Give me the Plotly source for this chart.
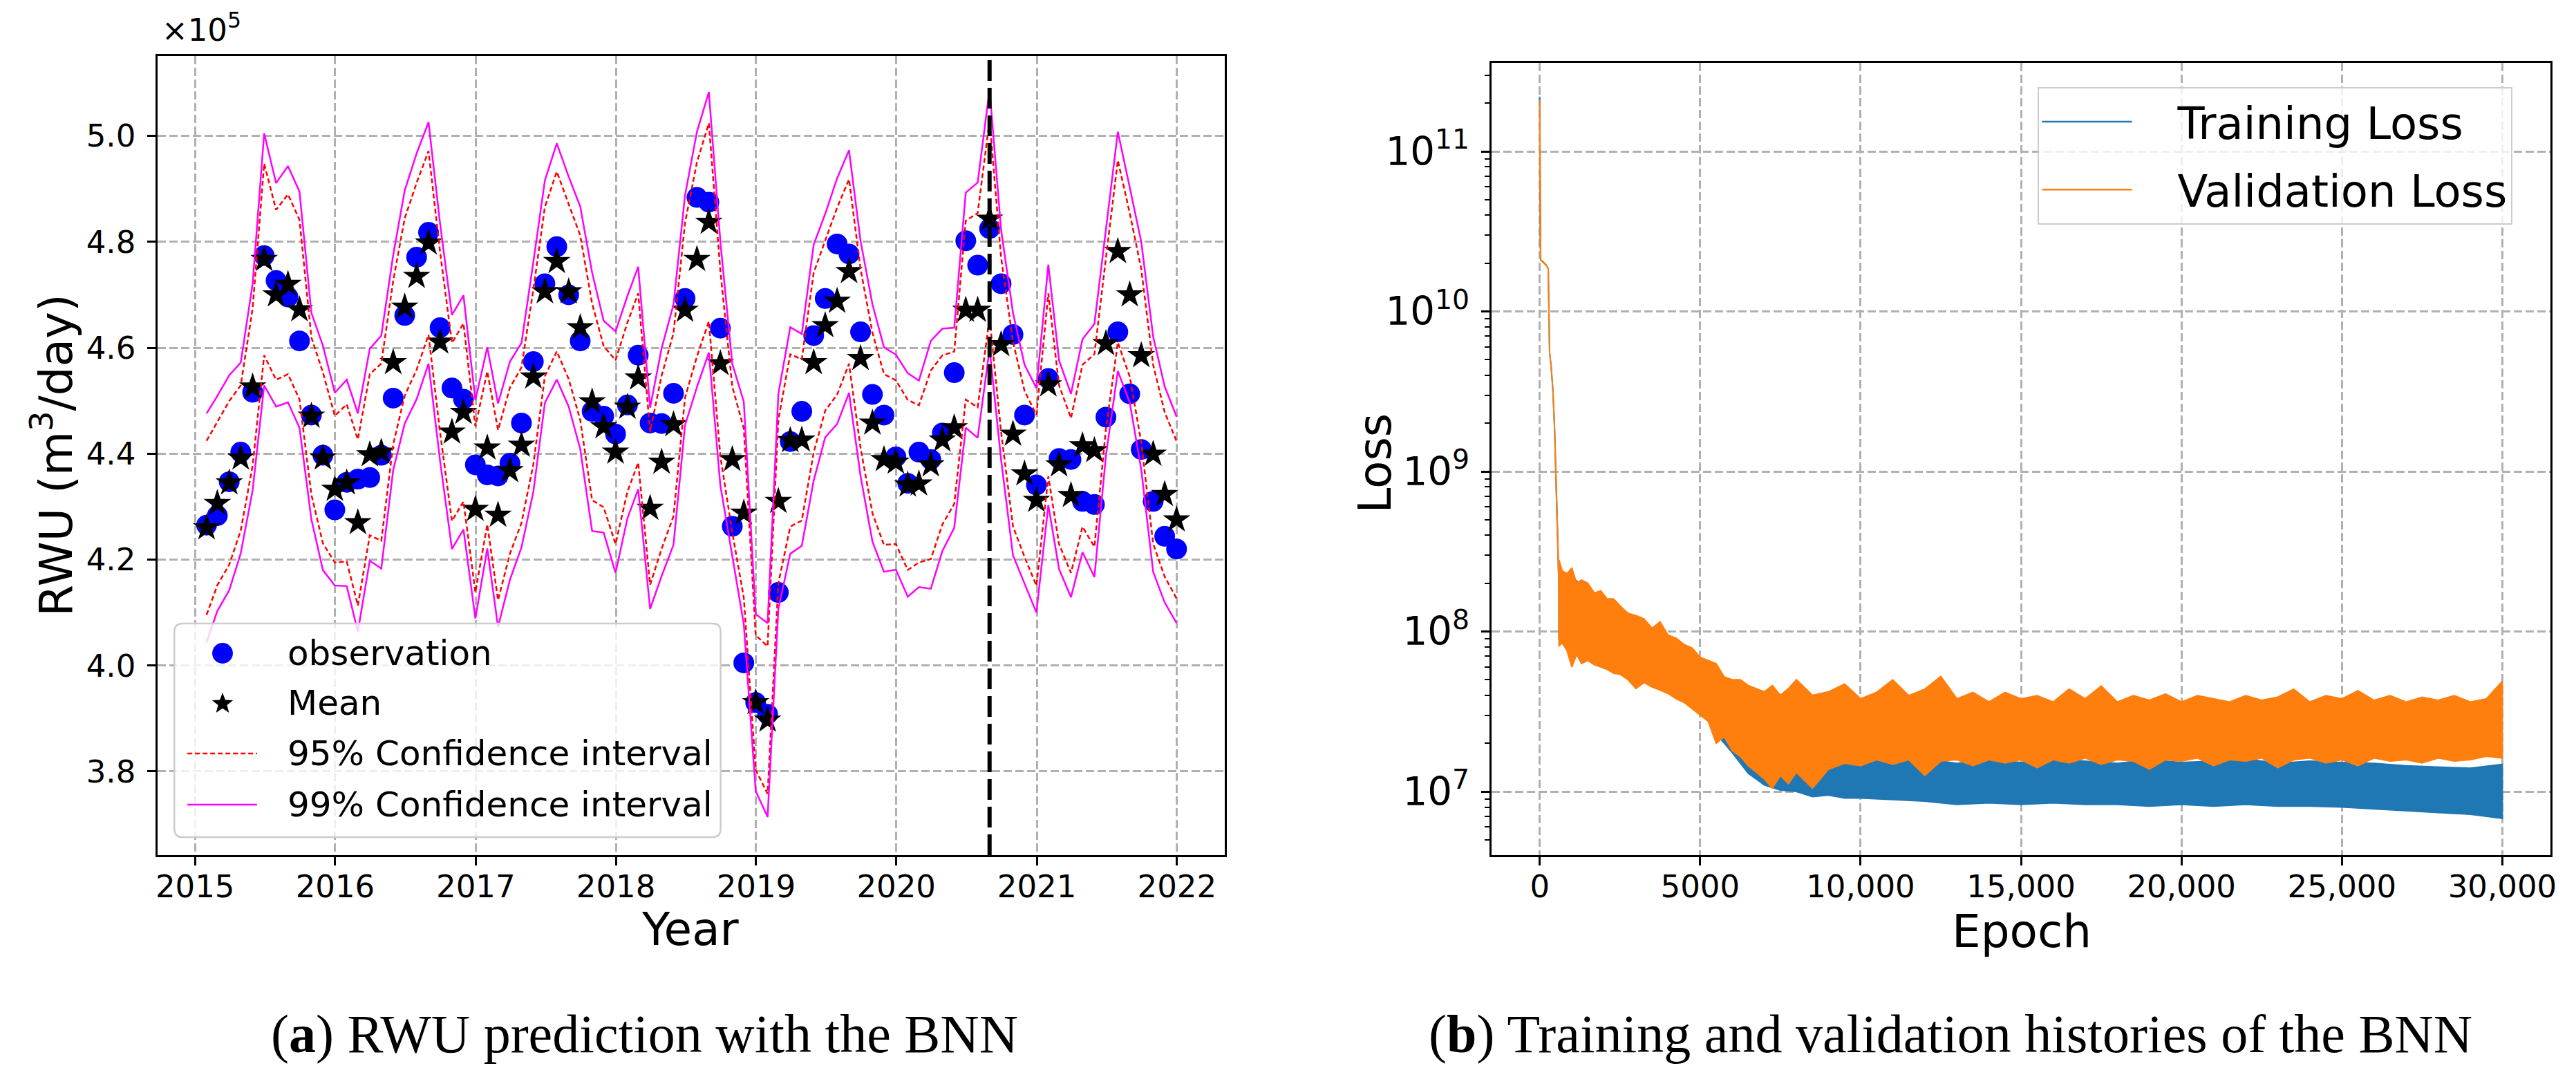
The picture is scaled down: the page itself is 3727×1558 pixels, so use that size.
import math
import pandas as pd
import plotly.graph_objects as go

# ---------------- (a) RWU prediction data (values in units of 1e5 m3/day) ----------------
DATES = pd.date_range(end="2021-12-31", periods=84, freq=pd.offsets.MonthEnd())

OBSERVATION = [
    4.265, 4.283, 4.347, 4.403, 4.516, 4.774, 4.727, 4.696, 4.613, 4.473, 4.397, 4.294,
    4.346, 4.352, 4.355, 4.397, 4.505, 4.661, 4.771, 4.818, 4.638, 4.524, 4.503, 4.379,
    4.360, 4.358, 4.382, 4.458, 4.574, 4.721, 4.791, 4.700, 4.613, 4.480, 4.471, 4.437,
    4.492, 4.586, 4.458, 4.457, 4.514, 4.693, 4.884, 4.875, 4.637, 4.263, 4.005, 3.930,
    3.908, 4.138, 4.423, 4.480, 4.623, 4.693, 4.796, 4.777, 4.630, 4.512, 4.473, 4.394,
    4.344, 4.403, 4.389, 4.439, 4.553, 4.802, 4.756, 4.825, 4.721, 4.625, 4.473, 4.341,
    4.542, 4.391, 4.389, 4.310, 4.304, 4.469, 4.630, 4.513, 4.408, 4.310, 4.244, 4.220,
]

MEAN = [
    4.260, 4.306, 4.345, 4.392, 4.526, 4.767, 4.700, 4.720, 4.672, 4.471, 4.392, 4.333,
    4.345, 4.270, 4.398, 4.403, 4.572, 4.677, 4.735, 4.798, 4.611, 4.441, 4.478, 4.295,
    4.411, 4.284, 4.368, 4.416, 4.545, 4.706, 4.763, 4.706, 4.638, 4.498, 4.451, 4.403,
    4.488, 4.543, 4.297, 4.384, 4.455, 4.671, 4.767, 4.837, 4.570, 4.389, 4.288, 3.930,
    3.897, 4.310, 4.425, 4.426, 4.572, 4.642, 4.688, 4.744, 4.580, 4.458, 4.389, 4.384,
    4.341, 4.343, 4.379, 4.426, 4.449, 4.671, 4.671, 4.843, 4.606, 4.437, 4.362, 4.312,
    4.530, 4.379, 4.321, 4.415, 4.406, 4.608, 4.782, 4.700, 4.585, 4.399, 4.323, 4.275,
]

# half width of the 99% interval
CI99_HALF = [
    0.216, 0.203, 0.203, 0.180, 0.195, 0.238, 0.211, 0.223, 0.223, 0.195, 0.212, 0.182,
    0.195, 0.206, 0.200, 0.220, 0.203, 0.220, 0.232, 0.228, 0.224, 0.221, 0.221, 0.206,
    0.190, 0.211, 0.206, 0.193, 0.217, 0.210, 0.223, 0.217, 0.229, 0.244, 0.200, 0.228,
    0.210, 0.210, 0.190, 0.215, 0.227, 0.217, 0.241, 0.246, 0.230, 0.181, 0.210, 0.167,
    0.183, 0.203, 0.214, 0.200, 0.223, 0.211, 0.232, 0.229, 0.222, 0.224, 0.212, 0.203,
    0.211, 0.195, 0.234, 0.210, 0.189, 0.222, 0.241, 0.245, 0.217, 0.229, 0.206, 0.212,
    0.227, 0.197, 0.192, 0.201, 0.239, 0.212, 0.226, 0.203, 0.215, 0.222, 0.204, 0.195,
]
Z95, Z99 = 1.96, 2.576
SPLIT_INDEX = 67  # train/test split marker (Aug 2020)

YEAR_TICKS = [2015, 2016, 2017, 2018, 2019, 2020, 2021, 2022]
RWU_TICKS = [3.8, 4.0, 4.2, 4.4, 4.6, 4.8, 5.0]
LEGEND_A_LABELS = ["observation", "Mean", "95% Confidence interval", "99% Confidence interval"]

# ---------------- (b) loss history data ----------------
EARLY_EPOCH = [0, 5, 15, 30, 100, 200, 265, 290, 308, 358, 415, 465, 500, 537, 573, 595]
EARLY_LOSS = [2.1e11, 1.2e11, 3.0e10, 2.1e10, 2.05e10, 1.95e10, 1.85e10, 8.0e9, 5.5e9,
              4.5e9, 3.1e9, 1.8e9, 1.02e9, 5.7e8, 3.2e8, 2.0e8]
TRAIN_START_LOSS = 2.2e11

VAL_EPOCH = [600, 700, 850, 1000, 1150, 1300, 1500, 1700, 1900, 2100,
             2300, 2500, 2750, 3000, 3250, 3500, 3750, 4000, 4250, 4500,
             4750, 5000, 5250, 5500, 5750, 6000, 6250, 6500, 6750, 7000,
             7250, 7500, 7750, 8000, 8500, 9000, 9500, 10000] + list(range(10500, 30001, 500))
VAL_LO = [8.1e7, 8.5e7, 7.6e7, 6.0e7, 7.2e7, 6.3e7, 6.6e7, 6.2e7, 6.0e7, 5.8e7,
          5.5e7, 5.4e7, 5.0e7, 4.4e7, 4.8e7, 4.5e7, 4.3e7, 4.1e7, 3.8e7, 3.6e7,
          3.3e7, 3.0e7, 2.75e7, 2.0e7, 2.2e7, 1.8e7, 1.66e7, 1.45e7, 1.32e7, 1.2e7,
          1.05e7, 1.26e7, 1.12e7, 1.32e7, 1.05e7, 1.38e7, 1.5e7, 1.45e7,
          1.58e7, 1.48e7, 1.58e7, 1.26e7, 1.55e7, 1.58e7, 1.45e7, 1.58e7, 1.51e7, 1.58e7,
          1.41e7, 1.58e7, 1.51e7, 1.62e7, 1.48e7, 1.58e7, 1.55e7, 1.38e7, 1.58e7, 1.55e7,
          1.62e7, 1.45e7, 1.58e7, 1.55e7, 1.62e7, 1.41e7, 1.58e7, 1.62e7, 1.51e7, 1.58e7,
          1.45e7, 1.62e7, 1.55e7, 1.58e7, 1.51e7, 1.62e7, 1.55e7, 1.58e7, 1.66e7, 1.62e7]
VAL_HI = [2.8e8, 2.4e8, 2.3e8, 2.5e8, 2.0e8, 2.1e8, 2.0e8, 1.74e8, 1.8e8, 1.6e8,
          1.6e8, 1.45e8, 1.3e8, 1.26e8, 1.2e8, 1.05e8, 1.15e8, 9.5e7, 9.1e7, 8.3e7,
          7.9e7, 6.9e7, 6.6e7, 6.3e7, 5.2e7, 5.0e7, 5.0e7, 4.6e7, 4.4e7, 4.2e7,
          4.6e7, 4.0e7, 4.4e7, 5.0e7, 4.0e7, 4.2e7, 4.7e7, 3.8e7,
          4.17e7, 5.0e7, 3.98e7, 4.37e7, 5.25e7, 3.8e7, 4.17e7, 3.63e7, 4.17e7, 3.8e7,
          3.98e7, 3.63e7, 4.37e7, 3.8e7, 4.57e7, 3.63e7, 3.98e7, 3.72e7, 4.07e7, 3.63e7,
          3.98e7, 3.8e7, 3.63e7, 3.98e7, 3.72e7, 3.89e7, 4.37e7, 3.63e7, 3.98e7, 3.8e7,
          4.27e7, 3.72e7, 3.98e7, 3.63e7, 3.89e7, 3.72e7, 3.98e7, 3.63e7, 3.8e7, 4.9e7]

TRAIN_EPOCH = [600, 1000, 1500, 2000, 2500, 3000, 3500, 4000, 4500, 5000,
               5500, 6000, 6500, 7000, 7500, 8000, 8500, 9000, 9500, 10000] + list(range(11000, 30001, 1000))
TRAIN_LO = [9.0e7, 7.5e7, 7.5e7, 6.8e7, 6.2e7, 5.4e7, 5.2e7, 4.7e7, 4.2e7, 3.4e7,
            2.3e7, 1.75e7, 1.3e7, 1.1e7, 1.02e7, 1.0e7, 9.3e6, 9.5e6, 9.1e6, 9.1e6,
            8.9e6, 8.7e6, 8.3e6, 8.5e6, 8.3e6, 8.5e6, 8.3e6, 8.3e6, 8.1e6, 8.3e6,
            8.1e6, 8.3e6, 8.1e6, 8.1e6, 8.0e6, 7.8e6, 7.6e6, 7.4e6, 7.2e6, 6.8e6]
TRAIN_HI = [2.4e8, 2.2e8, 1.8e8, 1.6e8, 1.4e8, 1.2e8, 1.0e8, 9.0e7, 8.0e7, 6.5e7,
            6.0e7, 4.5e7, 3.0e7, 2.0e7, 1.8e7, 1.7e7, 1.66e7, 1.6e7, 1.6e7, 1.58e7,
            1.55e7, 1.6e7, 1.5e7, 1.58e7, 1.52e7, 1.6e7, 1.55e7, 1.5e7, 1.58e7, 1.52e7,
            1.55e7, 1.6e7, 1.5e7, 1.55e7, 1.52e7, 1.5e7, 1.45e7, 1.42e7, 1.4e7, 1.48e7]

EPOCH_TICKS = [0, 5000, 10000, 15000, 20000, 25000, 30000]
EPOCH_TICKTEXT = ["0", "5000", "10,000", "15,000", "20,000", "25,000", "30,000"]

# ---------------- figure ----------------
W, H = 3727, 1558
FONT = "DejaVu Sans"
SERIF = "Liberation Serif"
GRID = "#b0b0b0"
BLUE, RED, MAGENTA = "#0000ff", "#ff0000", "#ff00ff"
DASH95 = "7px,4px"


def px(x):
    return x / W


def py(y):
    return 1 - y / H


sigma = [h / Z99 for h in CI99_HALF]
up95 = [m + Z95 * s for m, s in zip(MEAN, sigma)]
lo95 = [m - Z95 * s for m, s in zip(MEAN, sigma)]
up99 = [m + Z99 * s for m, s in zip(MEAN, sigma)]
lo99 = [m - Z99 * s for m, s in zip(MEAN, sigma)]

fig = go.Figure()

fig.add_trace(go.Scatter(x=DATES, y=OBSERVATION, mode="markers", name=LEGEND_A_LABELS[0],
                         marker=dict(symbol="circle", size=30, color=BLUE, line=dict(width=0)),
                         showlegend=False, xaxis="x", yaxis="y"))
fig.add_trace(go.Scatter(x=DATES, y=MEAN, mode="markers", name=LEGEND_A_LABELS[1],
                         marker=dict(symbol="star", size=30, color="black", line=dict(width=0)),
                         showlegend=False, xaxis="x", yaxis="y"))
for ys in (up95, lo95):
    fig.add_trace(go.Scatter(x=DATES, y=ys, mode="lines", name=LEGEND_A_LABELS[2],
                             line=dict(color=RED, width=2.5, dash=DASH95),
                             showlegend=False, xaxis="x", yaxis="y"))
for ys in (up99, lo99):
    fig.add_trace(go.Scatter(x=DATES, y=ys, mode="lines", name=LEGEND_A_LABELS[3],
                             line=dict(color=MAGENTA, width=2.5),
                             showlegend=False, xaxis="x", yaxis="y"))

split_date = str(DATES[SPLIT_INDEX].date())
fig.add_shape(type="line", xref="x", yref="y domain", x0=split_date, x1=split_date, y0=0, y1=1,
              line=dict(color="black", width=6, dash="30px,10px"))


def band(ep_early, loss_early, ep, lo, hi):
    xs = list(ep_early) + list(ep) + list(ep)[::-1] + list(ep_early)[::-1]
    ys = list(loss_early) + list(hi) + list(lo)[::-1] + list(loss_early)[::-1]
    return xs, ys


train_early = [TRAIN_START_LOSS] + EARLY_LOSS[1:]
tx, ty = band(EARLY_EPOCH, train_early, TRAIN_EPOCH, TRAIN_LO, TRAIN_HI)
vx, vy = band(EARLY_EPOCH, EARLY_LOSS, VAL_EPOCH, VAL_LO, VAL_HI)

fig.add_trace(go.Scatter(x=tx, y=ty, mode="lines", fill="toself", fillcolor="#1f77b4",
                         line=dict(color="#1f77b4", width=2), showlegend=False,
                         xaxis="x2", yaxis="y2"))
fig.add_trace(go.Scatter(x=vx, y=vy, mode="lines", fill="toself", fillcolor="#ff7f0e",
                         line=dict(color="#ff7f0e", width=2), showlegend=False,
                         xaxis="x2", yaxis="y2"))
NB = "\u00a0"
fig.add_trace(go.Scatter(x=[None], y=[None], mode="lines", name=NB * 3 + "Training Loss",
                         line=dict(color="#1f77b4", width=2.5), legend="legend2",
                         legendgroup="tr", xaxis="x2", yaxis="y2"))
fig.add_trace(go.Scatter(x=[None], y=[None], mode="lines", name=NB * 3 + "Validation Loss",
                         line=dict(color="#ff7f0e", width=2.5), legend="legend2",
                         legendgroup="va", xaxis="x2", yaxis="y2"))

axis_common = dict(showline=True, linecolor="black", linewidth=3, mirror=True,
                   ticks="outside", ticklen=12, tickwidth=2.5, tickcolor="black",
                   showgrid=True, gridcolor=GRID, gridwidth=2.5, griddash="12px,5px",
                   zeroline=False, tickfont=dict(family=FONT, size=45, color="black"))

fig.update_layout(
    width=W, height=H, margin=dict(l=0, r=0, t=0, b=0),
    paper_bgcolor="white", plot_bgcolor="white",
    font=dict(family=FONT, color="black"),
    xaxis=dict(domain=[px(218), px(1767)], type="date", range=["2014-09-26", "2022-05-06"],
               tickvals=[f"{y}-01-01" for y in YEAR_TICKS], ticktext=[str(y) for y in YEAR_TICKS],
               anchor="y", ticklabelstandoff=-8, **axis_common),
    yaxis=dict(domain=[py(1229), py(73)], range=[3.642, 5.151],
               tickvals=RWU_TICKS, ticktext=[f"{v:.1f}" for v in RWU_TICKS],
               anchor="x", ticklabelstandoff=8, **axis_common),
    xaxis2=dict(domain=[px(2154), px(3691)], range=[-1500, 31500],
                tickvals=EPOCH_TICKS, ticktext=EPOCH_TICKTEXT, anchor="y2",
                ticklabelstandoff=-8, **axis_common),
    yaxis2=dict(domain=[py(1229), py(83)], type="log", range=[6.603, 11.553],
                dtick=1, exponentformat="power", showexponent="all",
                minor=dict(ticks="outside", ticklen=7, tickwidth=2, tickcolor="black",
                           dtick="D1", showgrid=False),
                anchor="x2", ticklabelstandoff=8, **axis_common),
    legend2=dict(x=px(2946), y=py(118), xanchor="left", yanchor="top",
                 bgcolor="rgba(255,255,255,0.8)", bordercolor="#cccccc", borderwidth=2,
                 font=dict(family=FONT, size=64, color="black"), itemwidth=130,
                 tracegroupgap=12),
    showlegend=True,
)

# ---- legend box for panel (a), drawn by hand so the symbols keep their plotted size ----
BX0, BX1, BY0, BY1, BR = 242, 1035, 894, 1203, 12
box_path = (f"M {px(BX0 + BR)},{py(BY0)} L {px(BX1 - BR)},{py(BY0)} "
            f"Q {px(BX1)},{py(BY0)} {px(BX1)},{py(BY0 + BR)} L {px(BX1)},{py(BY1 - BR)} "
            f"Q {px(BX1)},{py(BY1)} {px(BX1 - BR)},{py(BY1)} L {px(BX0 + BR)},{py(BY1)} "
            f"Q {px(BX0)},{py(BY1)} {px(BX0)},{py(BY1 - BR)} L {px(BX0)},{py(BY0 + BR)} "
            f"Q {px(BX0)},{py(BY0)} {px(BX0 + BR)},{py(BY0)} Z")
fig.add_shape(type="path", path=box_path, xref="paper", yref="paper", layer="above",
              fillcolor="rgba(255,255,255,0.8)", line=dict(color="#cccccc", width=2.5))
ROW_Y = [937, 1009, 1082, 1156]
SYM_X = 312
fig.add_shape(type="circle", xref="paper", yref="paper", layer="above",
              x0=px(SYM_X - 15), x1=px(SYM_X + 15), y0=py(ROW_Y[0] + 15), y1=py(ROW_Y[0] - 15),
              fillcolor=BLUE, line=dict(width=0))
star_pts = []
for k in range(10):
    ang = math.radians(-90 + 36 * k)
    rad = 16 if k % 2 == 0 else 6.8
    star_pts.append((px(SYM_X + rad * math.cos(ang)), py(ROW_Y[1] + 1 + rad * math.sin(ang))))
star_path = "M " + " L ".join(f"{a},{b}" for a, b in star_pts) + " Z"
fig.add_shape(type="path", path=star_path, xref="paper", yref="paper", layer="above",
              fillcolor="black", line=dict(width=0))
fig.add_shape(type="line", xref="paper", yref="paper", layer="above",
              x0=px(261), x1=px(362), y0=py(ROW_Y[2]), y1=py(ROW_Y[2]),
              line=dict(color=RED, width=2.5, dash=DASH95))
fig.add_shape(type="line", xref="paper", yref="paper", layer="above",
              x0=px(261), x1=px(362), y0=py(ROW_Y[3]), y1=py(ROW_Y[3]),
              line=dict(color=MAGENTA, width=2.5))
for label, ry in zip(LEGEND_A_LABELS, ROW_Y):
    fig.add_annotation(text=label, x=px(404), y=py(ry), xref="paper", yref="paper",
                       showarrow=False, xanchor="left", yanchor="middle",
                       font=dict(family=FONT, size=50, color="black"))

ann = [
    dict(text="×10<sup>5</sup>", x=px(222), y=py(64), xanchor="left", yanchor="bottom",
         font=dict(family=FONT, size=45)),
    dict(text="RWU (m<sup>3</sup>/day)", x=px(65), y=py(650), textangle=-90,
         xanchor="center", yanchor="middle", font=dict(family=FONT, size=66)),
    dict(text="Year", x=px(991), y=py(1336), xanchor="center", yanchor="middle",
         font=dict(family=FONT, size=66)),
    dict(text="Loss", x=px(1984), y=py(662), textangle=-90,
         xanchor="center", yanchor="middle", font=dict(family=FONT, size=66)),
    dict(text="Epoch", x=px(2923), y=py(1339), xanchor="center", yanchor="middle",
         font=dict(family=FONT, size=66)),
    dict(text="(<b>a</b>) RWU prediction with the BNN", x=px(924), y=py(1487),
         xanchor="center", yanchor="middle", font=dict(family=SERIF, size=78)),
    dict(text="(<b>b</b>) Training and validation histories of the BNN", x=px(2820),
         y=py(1487), xanchor="center", yanchor="middle", font=dict(family=SERIF, size=78)),
]
for a in ann:
    a.update(xref="paper", yref="paper", showarrow=False)
    fig.add_annotation(**a)

fig.write_html("out.html")
